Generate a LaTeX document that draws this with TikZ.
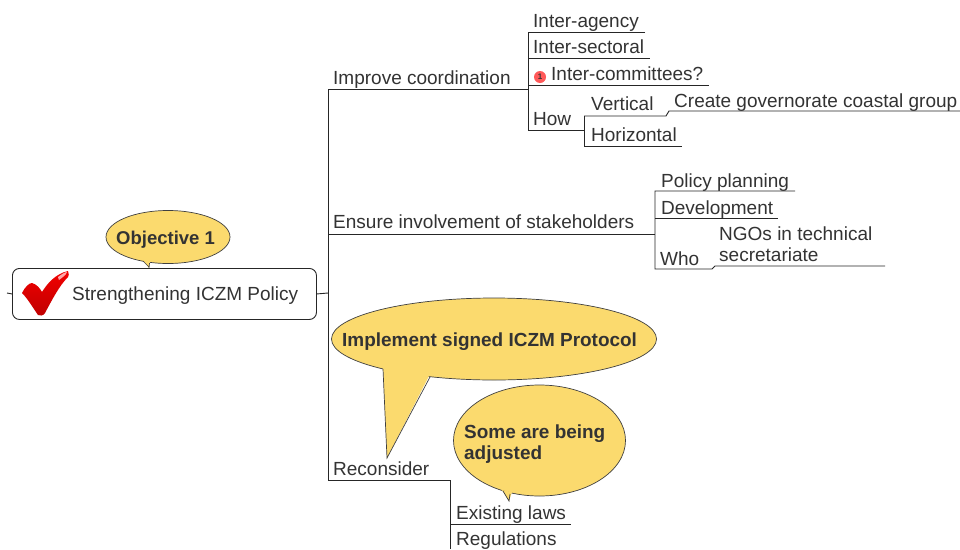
\documentclass[tikz,border=0pt]{standalone}
\usepackage{fontspec}
\setmainfont{Liberation Sans}
\usetikzlibrary{shapes.geometric}
\definecolor{callfill}{HTML}{FBDA6E}
\definecolor{ink}{HTML}{333333}
\tikzset{
 lbl/.style={anchor=base west,inner sep=0pt,text=ink,font=\fontsize{19}{22}\selectfont},
 blbl/.style={anchor=base west,inner sep=0pt,text=ink,align=left,font=\fontsize{18.95}{25}\selectfont\bfseries},
 link/.style={draw=black!85,line width=0.9pt},
 bub/.style={ellipse,draw=black!75,fill=callfill,line width=0.7pt,inner sep=0pt,minimum width=#1},
}
\begin{document}
\begin{tikzpicture}[x=1pt,y=-1pt]
\useasboundingbox[fill=white] (0,0) rectangle (960,549);
% junctions
\coordinate (rootout) at (328,293);
\coordinate (vtop) at (328,89);
\coordinate (ensL) at (328,234);
\coordinate (recL) at (328,480);
\coordinate (impR) at (528,89);
\coordinate (ensR) at (655,234);
\coordinate (recR) at (450,480);
\coordinate (regEnd) at (450,549);
\coordinate (exR) at (571,524);
\coordinate (exL) at (450,524);
% top branch
\coordinate (a1) at (528,32);\coordinate (a2) at (645,32);
\coordinate (b1) at (528,58);\coordinate (b2) at (650,58);
\coordinate (c1) at (528,85);\coordinate (c2) at (709,85);
\coordinate (d1) at (528,130);\coordinate (d2) at (584,130);
\coordinate (e1) at (584,116);\coordinate (e2) at (666,116);
\coordinate (e3) at (669,111);\coordinate (e4) at (960,111);
\coordinate (f1) at (584,146);\coordinate (f2) at (682,146);
% middle branch
\coordinate (g1) at (655,191);\coordinate (g2) at (795,191);
\coordinate (h1) at (655,218);\coordinate (h2) at (778,218);
\coordinate (i1) at (655,269);\coordinate (i2) at (712,269);
\coordinate (i3) at (715,266);\coordinate (i4) at (885,266);

% root box
\node[draw=black!85,line width=0.9pt,rounded corners=7pt,minimum width=304pt,minimum height=51pt,inner sep=0pt,anchor=north west] (root) at (12,268) {};
\coordinate (tick) at (7,293);
\draw[link] (tick) -- (root.west);
\draw[link] (root.east) -- (rootout);
\node[lbl] (roott) at (72,300) {Strengthening ICZM Policy};
% check mark
\shade[top color=red!95!black,bottom color=red!75!black] (22,293) .. controls (25,287) and (29,283) .. (32,283) .. controls (36,284) and (40,288) .. (42,292) .. controls (47,284) and (55,274) .. (68,271)
 .. controls (69,274) and (69,276) .. (68,277) .. controls (59,286) and (52,300) .. (45,313) .. controls (43,316) and (40,316) .. (38,315) .. controls (33,308) and (28,299) .. (22,293) -- cycle;
\fill[red!35!white] (58,277) .. controls (62,274) and (65,272) .. (67,272) .. controls (66,275) and (63,277) .. (59,280) -- cycle;

% main trunk
\draw[link] (vtop) -- (recL);
\draw[link] (impR) -- (vtop);
\draw[link] (ensL) -- (ensR);
\draw[link] (recL) -- (recR) -- (regEnd);
\draw[link] (exL) -- (exR);
\node[lbl] (imp) at (333,84) {Improve coordination};
\node[lbl] (ens) at (333,228) {Ensure involvement of stakeholders};
\node[lbl] (rec) at (333,475) {Reconsider};
\node[lbl] (ex) at (456,519) {Existing laws};
\node[lbl] (reg) at (456,545) {Regulations};

% top children
\draw[link] (a2) -- (a1) -- (d1) -- (d2);
\draw[link] (b1) -- (b2);
\draw[link] (c1) -- (c2);
\draw[link] (e1) -- (f1) -- (f2);
\draw[link] (e1) -- (e2) -- (e3) -- (e4);
\node[lbl] (ia) at (533,27) {Inter-agency};
\node[lbl] (is) at (533,53) {Inter-sectoral};
\node[circle,fill=red!65!white,inner sep=0pt,minimum size=12pt] (mark) at (540,77) {};
\node[inner sep=0pt,font=\fontsize{8}{8}\selectfont\bfseries,text=black!80] (markt) at (540,77) {1};
\node[lbl] (ic) at (551,80) {Inter-committees?};
\node[lbl] (how) at (533,125) {How};
\node[lbl] (ver) at (591,110) {Vertical};
\node[lbl] (hor) at (591,141) {Horizontal};
\node[lbl] (cg) at (674,107) {Create governorate coastal group};

% middle children
\draw[link] (g2) -- (g1) -- (i1) -- (i2) -- (i3) -- (i4);
\draw[link] (h1) -- (h2);
\node[lbl] (pp) at (661,187) {Policy planning};
\node[lbl] (dev) at (661,214) {Development};
\node[lbl] (who) at (660,265) {Who};
\node[lbl] (ng1) at (719,240) {NGOs in technical};
\node[lbl] (ng2) at (719,261) {secretariate};

% callouts
\node[bub=124pt,minimum height=53pt] (c1b) at (168,237) {};
\coordinate (t1) at (149,268);
\fill[callfill] (143,260) -- (t1) -- (150,261) -- cycle;
\draw[black!75,line width=0.7pt] (143,261) -- (149,267) -- (t1) (149,268) -- (149.5,263);
\node[blbl,font=\fontsize{18.5}{25}\selectfont\bfseries] (c1t) at (116,244) {Objective 1};

\node[bub=325pt,minimum height=82pt] (c2b) at (494,339) {};
\coordinate (t2) at (387,458);
\fill[callfill] (383,366) -- (t2) -- (430,374) -- cycle;
\draw[black!75,line width=0.7pt] (383,369) -- (t2) -- (430,377);
\node[blbl] (c2t) at (342,346) {Implement signed ICZM Protocol};

\node[bub=172pt,minimum height=111pt] (c3b) at (539.5,440.5) {};
\coordinate (t3) at (509,501);
\fill[callfill] (502,490) -- (t3) -- (512,492) -- cycle;
\draw[black!75,line width=0.7pt] (503,491) -- (t3) -- (510,494);
\node[blbl] (c3t) at (464,438) {Some are being};
\node[blbl] (c3u) at (464,459) {adjusted};
\end{tikzpicture}
\end{document}
